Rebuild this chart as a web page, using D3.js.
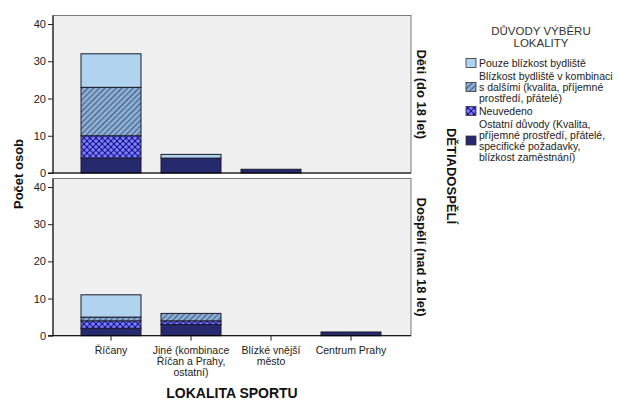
<!DOCTYPE html>
<html><head><meta charset="utf-8">
<script src="https://cdn.jsdelivr.net/npm/d3@7"></script>
<style>body{margin:0;background:#fff}svg{display:block;font-family:Arial,"Liberation Sans",sans-serif}</style>
</head><body><svg id="c" width="617" height="401"></svg>
<script>
const categories = ["Říčany", "Jiné (kombinace Říčan a Prahy, ostatní)", "Blízké vnější město", "Centrum Prahy"];
const categoryLabelLines = [["Říčany"], ["Jiné (kombinace", "Říčan a Prahy,", "ostatní)"], ["Blízké vnější", "město"], ["Centrum Prahy"]];
const seriesKeys = ["ostatni", "neuvedeno", "kombinace", "pouze"];
const seriesLegend = [
  ["Pouze blízkost bydliště"],
  ["Blízkost bydliště v kombinaci", "s dalšími (kvalita, příjemné", "prostředí, přátelé)"],
  ["Neuvedeno"],
  ["Ostatní důvody (Kvalita,", "příjemné prostředí, přátelé,", "specifické požadavky,", "blízkost zaměstnání)"]
];
const legendKeys = ["pouze", "kombinace", "neuvedeno", "ostatni"];
const panels = ["Děti (do 18 let)", "Dospělí (nad 18 let)"];
// Děti
const detiOstatni   = [4, 4, 1, 0];
const detiNeuvedeno = [6, 0, 0, 0];
const detiKombinace = [13, 0, 0, 0];
const detiPouze     = [9, 1, 0, 0];
// Dospělí
const dospOstatni   = [2, 3, 0, 1];
const dospNeuvedeno = [2, 1, 0, 0];
const dospKombinace = [1, 2, 0, 0];
const dospPouze     = [6, 0, 0, 0];
const yTicks = [0, 10, 20, 30, 40];

const svg = d3.select("#c");
const defs = svg.append("defs");
// hatch pattern
const ph = defs.append("pattern").attr("id","hatch").attr("patternUnits","userSpaceOnUse")
  .attr("width",4).attr("height",4).attr("patternTransform","rotate(45)");
ph.append("rect").attr("width",4).attr("height",4).attr("fill","#8aaed3");
ph.append("line").attr("x1",0).attr("y1",0).attr("x2",0).attr("y2",4).attr("stroke","#2a3658").attr("stroke-width",1.4);
// neuvedeno pattern
const pn = defs.append("pattern").attr("id","dots").attr("patternUnits","userSpaceOnUse")
  .attr("width",6).attr("height",6);
pn.append("rect").attr("width",6).attr("height",6).attr("fill","#4b4be0");
pn.append("path").attr("d","M0,0L6,6M6,0L0,6").attr("stroke","#1c1c78").attr("stroke-width",1);
pn.append("circle").attr("cx",3).attr("cy",0).attr("r",1.6).attr("fill","#7d7dff");
pn.append("circle").attr("cx",3).attr("cy",6).attr("r",1.6).attr("fill","#7d7dff");
pn.append("circle").attr("cx",0).attr("cy",3).attr("r",1.6).attr("fill","#7d7dff");
pn.append("circle").attr("cx",6).attr("cy",3).attr("r",1.6).attr("fill","#7d7dff");

const fills = {pouze:"#b0d3ef", kombinace:"url(#hatch)", neuvedeno:"url(#dots)", ostatni:"#27296e"};

const x = d3.scaleBand().domain(categories).range([71, 391]).paddingInner(0.25).paddingOuter(0.125);
const left = 53, right = 411;

const panelDefs = [
  {name: panels[0], top: 15.5, y: d3.scaleLinear().domain([0,40]).range([173, 24]),
   data: {ostatni: detiOstatni, neuvedeno: detiNeuvedeno, kombinace: detiKombinace, pouze: detiPouze}},
  {name: panels[1], top: 178.5, y: d3.scaleLinear().domain([0,40]).range([335.7, 187]),
   data: {ostatni: dospOstatni, neuvedeno: dospNeuvedeno, kombinace: dospKombinace, pouze: dospPouze}}
];

panelDefs.forEach((p, pi) => {
  const g = svg.append("g");
  const bottom = p.y(0);
  g.append("rect").attr("x", left).attr("y", p.top).attr("width", right-left).attr("height", bottom - p.top)
    .attr("fill", "#f0f0f0").attr("stroke", "#7a7a7a").attr("stroke-width", 1);
  const rows = categories.map((c, i) => { const r = {cat: c}; seriesKeys.forEach(k => r[k] = p.data[k][i]); return r; });
  const stacked = d3.stack().keys(seriesKeys)(rows);
  stacked.forEach(s => {
    g.selectAll(null).data(s.filter(d => d[1] - d[0] > 0)).enter().append("rect")
      .attr("x", d => x(d.data.cat)).attr("width", x.bandwidth())
      .attr("y", d => p.y(d[1])).attr("height", d => p.y(d[0]) - p.y(d[1]))
      .attr("fill", fills[s.key]).attr("stroke", "#1a1a2a").attr("stroke-width", 1);
  });
  const ax = d3.axisLeft(p.y).tickValues(yTicks).tickSize(5).tickPadding(2).tickFormat(d3.format("d"));
  const ag = g.append("g").attr("transform", `translate(${left},0)`).call(ax);
  ag.select(".domain").attr("d", `M0,${p.top}V${bottom}`).attr("stroke", "#000");
  ag.selectAll("text").attr("font-size", 11).attr("fill", "#222").attr("font-family", "Arial, sans-serif");
  ag.selectAll(".tick line").attr("stroke", "#222");
  g.append("line").attr("x1", left - 5).attr("x2", right).attr("y1", bottom).attr("y2", bottom).attr("stroke", "#000");
  // strip label
  g.append("text").attr("transform", `translate(422,${(p.top + bottom)/2}) rotate(90)`)
    .attr("text-anchor", "middle").attr("dy", "0.35em").attr("font-weight", "bold").attr("font-size", 13)
    .attr("fill", "#111").text(p.name);
  if (pi === 1) {
    categories.forEach((c, i) => {
      const cx = x(c) + x.bandwidth()/2;
      g.append("line").attr("x1", cx).attr("x2", cx).attr("y1", bottom).attr("y2", bottom + 5).attr("stroke", "#222");
      const t = g.append("text").attr("text-anchor", "middle").attr("font-size", 10.5).attr("fill", "#222");
      categoryLabelLines[i].forEach((ln, j) => t.append("tspan").attr("x", cx).attr("y", 354 + j * 10.8).text(ln));
    });
  }
});

// axis titles
svg.append("text").attr("transform", "translate(18,174) rotate(-90)").attr("text-anchor", "middle")
  .attr("dy", "0.35em").attr("font-weight", "bold").attr("font-size", 13).attr("fill", "#111").text("Počet osob");
svg.append("text").attr("x", 232).attr("y", 398).attr("text-anchor", "middle")
  .attr("font-weight", "bold").attr("font-size", 14).attr("fill", "#111").text("LOKALITA SPORTU");
svg.append("text").attr("transform", "translate(452,176) rotate(90)").attr("text-anchor", "middle")
  .attr("dy", "0.35em").attr("font-weight", "bold").attr("font-size", 13).attr("fill", "#111").text("DĚTIADOSPĚLÍ");

// legend
const lg = svg.append("g");
lg.append("text").attr("x", 541).attr("y", 34.5).attr("text-anchor", "middle").attr("font-size", 11.5).attr("fill", "#333").text("DŮVODY VÝBĚRU");
lg.append("text").attr("x", 541).attr("y", 47).attr("text-anchor", "middle").attr("font-size", 11.5).attr("fill", "#333").text("LOKALITY");
let ly = 63;
legendKeys.forEach((k, i) => {
  const lines = seriesLegend[i];
  const n = lines.length;
  const center = ly + (n - 1) * 11 / 2;
  lg.append("rect").attr("x", 466).attr("y", center - 4.5).attr("width", 10).attr("height", 9)
    .attr("fill", fills[k]).attr("stroke", "#333").attr("stroke-width", 0.8);
  lines.forEach((ln, j) => lg.append("text").attr("x", 479).attr("y", ly + j * 11).attr("dy", "0.35em")
    .attr("font-size", 10.5).attr("fill", "#222").text(ln));
  ly += n * 11 + 2;
});
</script></body></html>
